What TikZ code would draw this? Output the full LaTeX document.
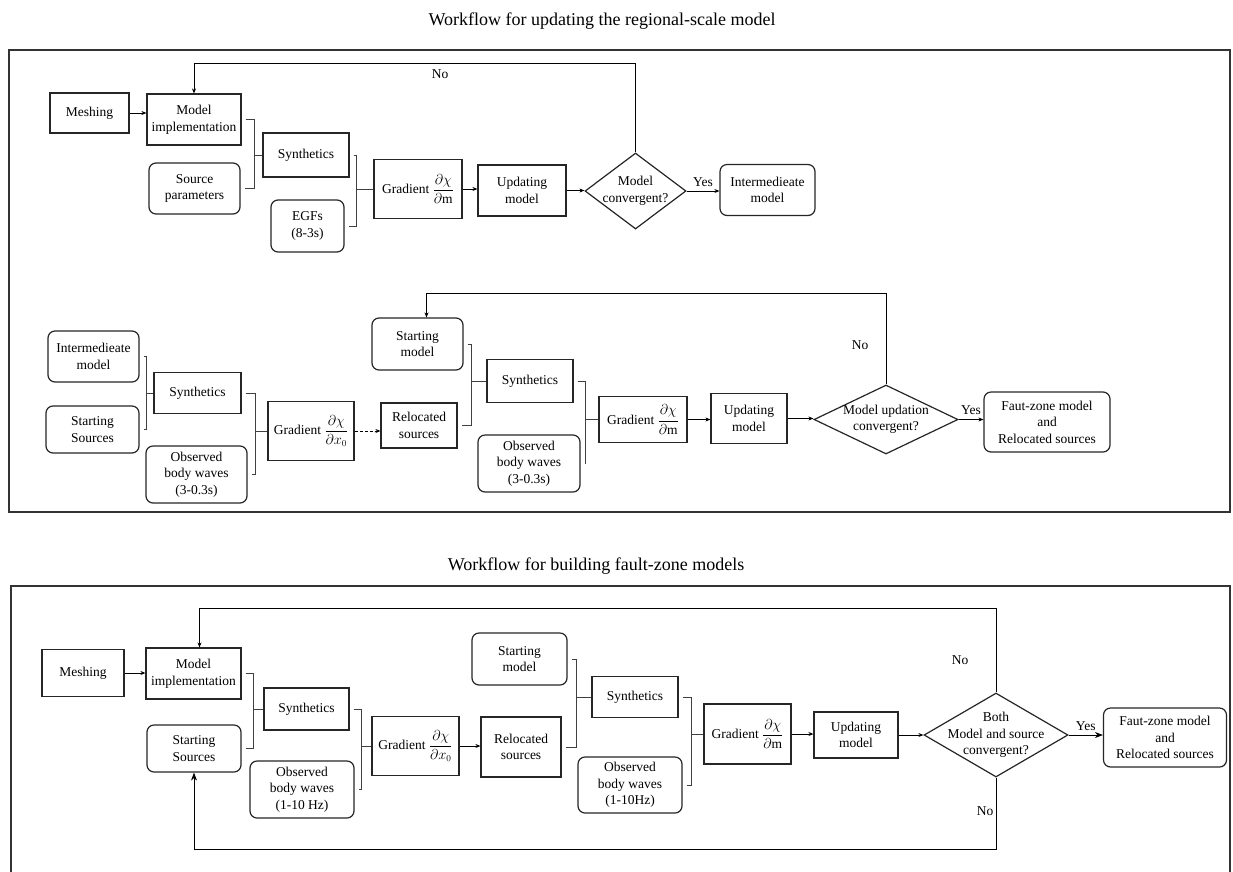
\documentclass[tikz,border=0pt]{standalone}
\usepackage{fontspec}
\setmainfont{Liberation Serif}
\usepackage{amsmath}
\usepackage{tikz}
\usetikzlibrary{shapes.geometric, arrows.meta, positioning, calc}

\begin{document}
\begin{tikzpicture}[
  x=1pt, y=-1pt,
  every node/.style={font=\fontsize{13.5}{16.5}\selectfont},
  sz/.style 2 args={minimum width=#1pt, minimum height=#2pt},
  block/.style={rectangle, draw=black!85, line width=1.2pt, align=center, inner sep=2pt},
  rblock/.style={block, rounded corners=7pt},
  decision/.style={diamond, draw=black!85, line width=1.2pt, inner sep=0pt},
  dlabel/.style={align=center, inner sep=0pt},
  msg/.style={-{Stealth[length=5pt, width=4pt]}, line width=0.7pt},
  bigmsg/.style={-{Stealth[length=8pt, width=6pt]}, line width=0.8pt},
  brk/.style={line width=0.6pt, black!75},
  frame/.style={draw=black!80, line width=1.2pt},
  title/.style={font=\fontsize{18}{22}\selectfont},
]
\useasboundingbox[fill=white] (0,0) rectangle (1233,871);

% Titles and frames
\node[title] (title1) at (602,21) {Workflow for updating the regional-scale model};
\node[title] (title2) at (596,566) {Workflow for building fault-zone models};
\draw[frame] (9,50) rectangle (1230,512);
\draw[frame] (11,586) rectangle (1230,900);

% Regional-scale model
\node[block, sz={79}{40}] (mesh1) at (89.5,113) {Meshing};
\node[block, sz={94}{51}] (impl1) at (194,119.5) {Model\\implementation};
\node[rblock, sz={91}{51}] (src1) at (194.5,188.5) {Source\\parameters};
\node[block, sz={86}{44}] (syn1) at (306,155) {Synthetics};
\node[rblock, sz={73}{52}] (egf1) at (307.5,226) {EGFs\\(8-3s)};
\node[block, sz={88}{59}] (grad1) at (418,189) {Gradient $\dfrac{\partial\chi}{\partial\mathrm{m}}$};
\node[block, sz={88}{51}] (upd1) at (522,190.5) {Updating\\model};
\node[decision, sz={101}{76}, label={[dlabel]center:Model\\convergent?}] (conv1) at (635.5,191) {};
\node[rblock, sz={95}{51}] (inter1) at (767.5,190) {Intermedieate\\model};

% Source relocation and model updating
\node[rblock, sz={91}{51}] (inter2) at (93.5,356.5) {Intermedieate\\model};
\node[rblock, sz={93}{47}] (ssrc2) at (92.5,429.5) {Starting\\Sources};
\node[block, sz={87}{41}] (syn2) at (197.5,393) {Synthetics};
\node[rblock, sz={101}{57}] (obs2) at (196.5,474.5) {Observed\\body waves\\(3-0.3s)};
\node[block, sz={86}{59}] (gradx2) at (311,431) {Gradient $\dfrac{\partial\chi}{\partial x_0}$};
\node[block, sz={76}{45}] (reloc2) at (419,425.5) {Relocated\\sources};
\node[rblock, sz={91}{52}] (smod2) at (417.5,344) {Starting\\model};
\node[block, sz={86}{43}] (syn3) at (530,381) {Synthetics};
\node[rblock, sz={102}{57}] (obs3) at (529,463.5) {Observed\\body waves\\(3-0.3s)};
\node[block, sz={88}{46}] (grad3) at (643,419.5) {Gradient $\dfrac{\partial\chi}{\partial\mathrm{m}}$};
\node[block, sz={76}{50}] (upd3) at (749,418.5) {Updating\\model};
\node[decision, sz={144}{69}, label={[dlabel]center:Model updation\\convergent?}] (conv3) at (886,419.5) {};
\node[rblock, sz={126}{60}] (fz3) at (1047,422) {Faut-zone model\\and\\Relocated sources};

% Fault-zone models
\node[block, sz={82}{47}] (mesh4) at (83,673) {Meshing};
\node[block, sz={95}{51}] (impl4) at (193.5,673.5) {Model\\implementation};
\node[rblock, sz={94}{47}] (ssrc4) at (194,748.5) {Starting\\Sources};
\node[block, sz={85}{42}] (syn4) at (306.5,709) {Synthetics};
\node[rblock, sz={104}{57}] (obs4) at (302,789.5) {Observed\\body waves\\(1-10 Hz)};
\node[block, sz={87}{59}] (gradx4) at (415.5,746) {Gradient $\dfrac{\partial\chi}{\partial x_0}$};
\node[block, sz={80}{60}] (reloc4) at (521,747) {Relocated\\sources};
\node[rblock, sz={95}{52}] (smod4) at (519.5,659) {Starting\\model};
\node[block, sz={86}{41}] (syn5) at (635,697) {Synthetics};
\node[rblock, sz={104}{56}] (obs5) at (630,785) {Observed\\body waves\\(1-10Hz)};
\node[block, sz={87}{60}] (grad5) at (747.5,734) {Gradient $\dfrac{\partial\chi}{\partial\mathrm{m}}$};
\node[block, sz={84}{46}] (upd5) at (856,735) {Updating\\model};
\node[decision, sz={144}{84}, label={[dlabel]center:Both\\Model and source\\convergent?}] (conv5) at (996,735) {};
\node[rblock, sz={123}{59}] (fz5) at (1165,737.5) {Faut-zone model\\and\\Relocated sources};

% Brackets
\foreach \a/\b/\c/\s in {impl1/src1/syn1/8, syn1/egf1/grad1/17, inter2/ssrc2/syn2/7,
    syn2/obs2/gradx2/12, smod2/reloc2/syn3/15, syn3/obs3/grad3/13, impl4/ssrc4/syn4/10,
    syn4/obs4/gradx4/10, smod4/reloc4/syn5/15, syn5/obs5/grad5/12} {
  \draw[brk] ([xshift=4pt]\a.east) -| ([xshift=-\s pt]\c.west) |- ([xshift=4pt]\b.east)
             ([xshift=-\s pt]\c.west) -- (\c.west);
}

% Arrows
\draw[msg] (mesh1.east) -- (mesh1.east -| impl1.west);
\draw[msg] (grad1.east) -- (grad1.east -| upd1.west);
\draw[msg] (upd1.east) -- (upd1.east -| conv1.west);
\draw[msg] (conv1.east) -- node[above=1pt] (yes1) {Yes} (conv1.east -| inter1.west);

\draw[msg, densely dashed] (gradx2.east) -- (gradx2.east -| reloc2.west);
\draw[msg] (grad3.east) -- (grad3.east -| upd3.west);
\draw[msg] (upd3.east) -- (upd3.east -| conv3.west);
\draw[msg] (conv3.east) -- node[above=1pt] (yes3) {Yes} (conv3.east -| fz3.west);

\draw[msg] (mesh4.east) -- (mesh4.east -| impl4.west);
\draw[msg] (gradx4.east) -- (gradx4.east -| reloc4.west);
\draw[msg] (grad5.east) -- (grad5.east -| upd5.west);
\draw[msg] (upd5.east) -- (upd5.east -| conv5.west);
\draw[bigmsg] (conv5.east) -- node[above=1pt] (yes5) {Yes} (conv5.east -| fz5.west);

% Feedback loops
\coordinate (fb1) at (0,63);
\coordinate (fb3) at (0,293);
\coordinate (fb5) at (0,608);
\coordinate (fb6) at (0,849);
\draw[msg] (conv1.north) -- (conv1.north |- fb1) -| (impl1.north);
\node (no1) at (440,74) {No};
\draw[msg] (conv3.north) -- (conv3.north |- fb3) -| ([xshift=9pt]smod2.north);
\node (no3) at (860,345) {No};
\draw[msg] (conv5.north) -- (conv5.north |- fb5) -| ([xshift=6pt]impl4.north);
\node (no5) at (960,660) {No};
\draw[bigmsg] (conv5.south) -- (conv5.south |- fb6) -| (ssrc4.south);
\node (no6) at (985,811) {No};

\end{tikzpicture}
\end{document}
